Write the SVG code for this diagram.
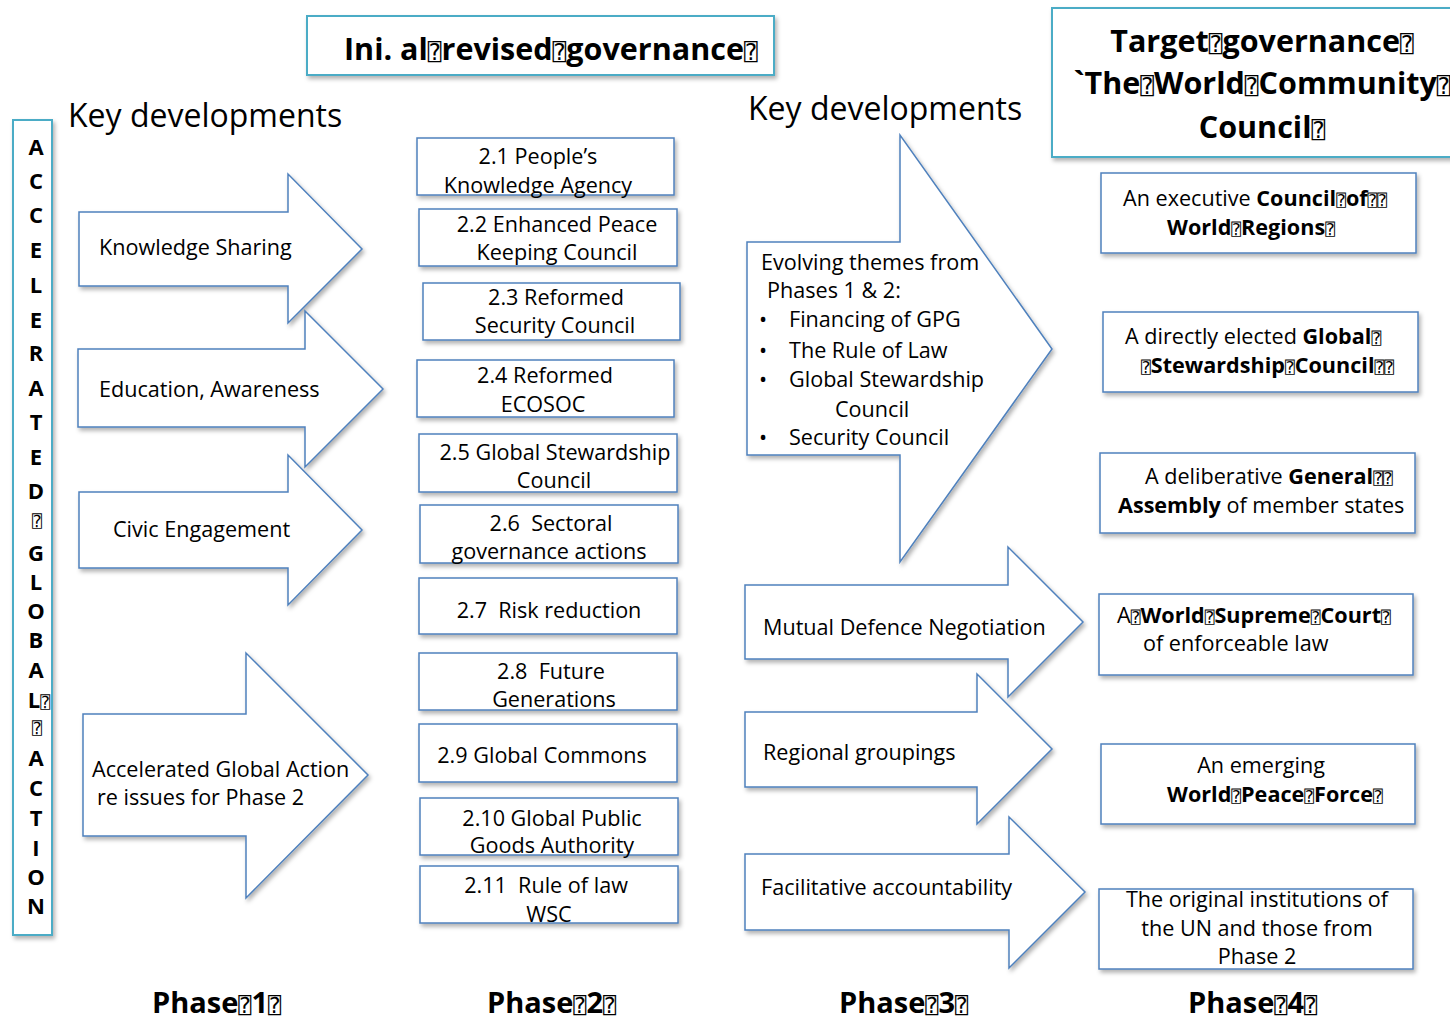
<svg xmlns="http://www.w3.org/2000/svg" width="1450" height="1020" viewBox="0 0 1450 1020">
<defs>
<filter id="sh" x="-10%" y="-10%" width="130%" height="130%">
<feDropShadow dx="2" dy="3" stdDeviation="2" flood-color="#000" flood-opacity="0.3"/>
</filter>
</defs>
<style>
text{font-family:"Open Sans","Liberation Sans",sans-serif;fill:#000;}
.t{font-size:21.6px;}
.b{font-weight:bold;}
.m{text-anchor:middle;}
.hd{font-size:32px;}
.ttl{font-size:30.5px;font-weight:bold;}
.ph{font-size:29px;font-weight:bold;}
.vl{font-size:22px;font-weight:bold;text-anchor:middle;}
.q{font-family:"DejaVu Sans Mono","DejaVu Sans",monospace;font-weight:normal;font-size:0.75em;}
.shape{fill:#fff;stroke:#4f81bd;stroke-width:1.5;filter:url(#sh);}
.tbox{fill:#fff;stroke:#4bacc6;stroke-width:2;filter:url(#sh);}
</style>
<rect width="1450" height="1020" fill="#fff"/>

<g id="title-initial">
<rect class="tbox" x="307" y="16" width="467" height="59"/>
<text class="ttl" x="344" y="60">Ini. al<tspan class="q">⍰</tspan>revised<tspan class="q">⍰</tspan>governance<tspan class="q">⍰</tspan></text>
</g>
<g id="title-target">
<rect class="tbox" x="1052" y="8" width="410" height="149"/>
<text class="ttl m" x="1262" y="52">Target<tspan class="q">⍰</tspan>governance<tspan class="q">⍰</tspan></text>
<text class="ttl m" x="1262" y="94">`The<tspan class="q">⍰</tspan>World<tspan class="q">⍰</tspan>Community<tspan class="q">⍰</tspan></text>
<text class="ttl m" x="1262" y="138">Council<tspan class="q">⍰</tspan></text>
</g>

<text class="hd" x="68" y="127">Key developments</text>
<text class="hd" x="748" y="120">Key developments</text>

<g id="accelerated-global-action">
<rect class="tbox" x="13" y="120" width="39" height="815"/>
<text class="vl" x="36" y="155">A</text>
<text class="vl" x="36" y="189">C</text>
<text class="vl" x="36" y="223">C</text>
<text class="vl" x="36" y="258">E</text>
<text class="vl" x="36" y="293">L</text>
<text class="vl" x="36" y="328">E</text>
<text class="vl" x="36" y="361">R</text>
<text class="vl" x="36" y="396">A</text>
<text class="vl" x="36" y="430">T</text>
<text class="vl" x="36" y="465">E</text>
<text class="vl" x="36" y="499">D</text>
<text class="vl" x="37" y="527"><tspan class="q">⍰</tspan></text>
<text class="vl" x="36" y="561">G</text>
<text class="vl" x="36" y="590">L</text>
<text class="vl" x="36" y="619">O</text>
<text class="vl" x="36" y="648">B</text>
<text class="vl" x="36" y="678">A</text>
<text class="vl" x="39" y="708">L<tspan class="q">⍰</tspan></text>
<text class="vl" x="37" y="734"><tspan class="q">⍰</tspan></text>
<text class="vl" x="36" y="766">A</text>
<text class="vl" x="36" y="796">C</text>
<text class="vl" x="36" y="826">T</text>
<text class="vl" x="36" y="856">I</text>
<text class="vl" x="36" y="885">O</text>
<text class="vl" x="36" y="914">N</text>
</g>

<g id="p1-knowledge">
<polygon class="shape" points="79,212 288,212 288,174 362,249 288,323 288,286 79,286"/>
<text class="t" x="99" y="255">Knowledge Sharing</text>
</g>
<g id="p1-education">
<polygon class="shape" points="78,349 305,349 305,311 383,389 305,467 305,427 78,427"/>
<text class="t" x="99" y="397">Education, Awareness</text>
</g>
<g id="p1-civic">
<polygon class="shape" points="79,492 288,492 288,455 362,530 288,605 288,568 79,568"/>
<text class="t" x="113" y="537">Civic Engagement</text>
</g>
<g id="p1-accelerated">
<polygon class="shape" points="83,714 246,714 246,653 368,775 246,898 246,836 83,836"/>
<text class="t" x="92" y="777">Accelerated Global Action</text>
<text class="t" x="97" y="805">re issues for Phase 2</text>
</g>

<g id="p2-1">
<rect class="shape" x="417" y="138" width="257" height="57"/>
<text class="t m" x="538" y="164">2.1 People’s</text>
<text class="t m" x="538" y="193">Knowledge Agency</text>
</g>
<g id="p2-2">
<rect class="shape" x="419" y="209" width="258" height="57"/>
<text class="t m" x="557" y="232">2.2 Enhanced Peace</text>
<text class="t m" x="557" y="260">Keeping Council</text>
</g>
<g id="p2-3">
<rect class="shape" x="423" y="283" width="257" height="57"/>
<text class="t m" x="556" y="305">2.3 Reformed</text>
<text class="t m" x="555" y="333">Security Council</text>
</g>
<g id="p2-4">
<rect class="shape" x="417" y="360" width="257" height="57"/>
<text class="t m" x="545" y="383">2.4 Reformed</text>
<text class="t m" x="543" y="412">ECOSOC</text>
</g>
<g id="p2-5">
<rect class="shape" x="419" y="434" width="258" height="58"/>
<text class="t m" x="555" y="460">2.5 Global Stewardship</text>
<text class="t m" x="554" y="488">Council</text>
</g>
<g id="p2-6">
<rect class="shape" x="420" y="505" width="258" height="58"/>
<text class="t m" x="551" y="531" xml:space="preserve">2.6  Sectoral</text>
<text class="t m" x="549" y="559">governance actions</text>
</g>
<g id="p2-7">
<rect class="shape" x="419" y="578" width="258" height="56"/>
<text class="t m" x="549" y="618" xml:space="preserve">2.7  Risk reduction</text>
</g>
<g id="p2-8">
<rect class="shape" x="419" y="653" width="258" height="57"/>
<text class="t m" x="551" y="679" xml:space="preserve">2.8  Future</text>
<text class="t m" x="554" y="707">Generations</text>
</g>
<g id="p2-9">
<rect class="shape" x="419" y="724" width="258" height="58"/>
<text class="t m" x="542" y="763">2.9 Global Commons</text>
</g>
<g id="p2-10">
<rect class="shape" x="420" y="798" width="258" height="57"/>
<text class="t m" x="552" y="826">2.10 Global Public</text>
<text class="t m" x="552" y="853">Goods Authority</text>
</g>
<g id="p2-11">
<rect class="shape" x="420" y="866" width="258" height="57"/>
<text class="t m" x="546" y="893" xml:space="preserve">2.11  Rule of law</text>
<text class="t m" x="549" y="922">WSC</text>
</g>

<g id="p3-evolving">
<polygon class="shape" points="747,242 900,242 900,135 1052,349 900,562 900,455 747,455"/>
<text class="t" x="761" y="270">Evolving themes from</text>
<text class="t" x="767" y="298">Phases 1 &amp; 2:</text>
<text class="t" x="759" y="327">•</text>
<text class="t" x="789" y="327">Financing of GPG</text>
<text class="t" x="759" y="358">•</text>
<text class="t" x="789" y="358">The Rule of Law</text>
<text class="t" x="759" y="387">•</text>
<text class="t" x="789" y="387">Global Stewardship</text>
<text class="t" x="835" y="417">Council</text>
<text class="t" x="759" y="445">•</text>
<text class="t" x="789" y="445">Security Council</text>
</g>
<g id="p3-mutual">
<polygon class="shape" points="745,585 1008,585 1008,547 1083,622 1008,697 1008,659 745,659"/>
<text class="t" x="763" y="635">Mutual Defence Negotiation</text>
</g>
<g id="p3-regional">
<polygon class="shape" points="745,712 977,712 977,674 1052,749 977,824 977,787 745,787"/>
<text class="t" x="763" y="760">Regional groupings</text>
</g>
<g id="p3-facilitative">
<polygon class="shape" points="745,854 1009,854 1009,817 1085,892 1009,968 1009,930 745,930"/>
<text class="t" x="761" y="895">Facilitative accountability</text>
</g>

<g id="p4-executive">
<rect class="shape" x="1101" y="173" width="315" height="80"/>
<text class="t" x="1123" y="206">An executive <tspan class="b">Council</tspan><tspan class="q">⍰</tspan><tspan class="b">of</tspan><tspan class="q">⍰⍰</tspan></text>
<text class="t b" x="1167" y="235">World<tspan class="q">⍰</tspan>Regions<tspan class="q">⍰</tspan></text>
</g>
<g id="p4-stewardship">
<rect class="shape" x="1103" y="312" width="315" height="80"/>
<text class="t" x="1125" y="344">A directly elected <tspan class="b">Global</tspan><tspan class="q">⍰</tspan></text>
<text class="t b" x="1141" y="373"><tspan class="q">⍰</tspan>Stewardship<tspan class="q">⍰</tspan>Council<tspan class="q">⍰⍰</tspan></text>
</g>
<g id="p4-assembly">
<rect class="shape" x="1100" y="453" width="315" height="80"/>
<text class="t" x="1145" y="484">A deliberative <tspan class="b">General</tspan><tspan class="q">⍰⍰</tspan></text>
<text class="t" x="1118" y="513"><tspan class="b">Assembly</tspan> of member states</text>
</g>
<g id="p4-court">
<rect class="shape" x="1099" y="594" width="314" height="81"/>
<text class="t" x="1117" y="623">A<tspan class="q">⍰</tspan><tspan class="b">World</tspan><tspan class="q">⍰</tspan><tspan class="b">Supreme</tspan><tspan class="q">⍰</tspan><tspan class="b">Court</tspan><tspan class="q">⍰</tspan></text>
<text class="t" x="1143" y="651">of enforceable law</text>
</g>
<g id="p4-peace">
<rect class="shape" x="1101" y="744" width="314" height="80"/>
<text class="t m" x="1261" y="773">An emerging</text>
<text class="t b" x="1167" y="802">World<tspan class="q">⍰</tspan>Peace<tspan class="q">⍰</tspan>Force<tspan class="q">⍰</tspan></text>
</g>
<g id="p4-original">
<rect class="shape" x="1099" y="889" width="314" height="80"/>
<text class="t m" x="1257" y="907">The original institutions of</text>
<text class="t m" x="1257" y="936">the UN and those from</text>
<text class="t m" x="1257" y="964">Phase 2</text>
</g>

<g id="connectors"></g>

<text class="ph" x="152" y="1013">Phase<tspan class="q">⍰</tspan>1<tspan class="q">⍰</tspan></text>
<text class="ph" x="487" y="1013">Phase<tspan class="q">⍰</tspan>2<tspan class="q">⍰</tspan></text>
<text class="ph" x="839" y="1013">Phase<tspan class="q">⍰</tspan>3<tspan class="q">⍰</tspan></text>
<text class="ph" x="1188" y="1013">Phase<tspan class="q">⍰</tspan>4<tspan class="q">⍰</tspan></text>
</svg>
